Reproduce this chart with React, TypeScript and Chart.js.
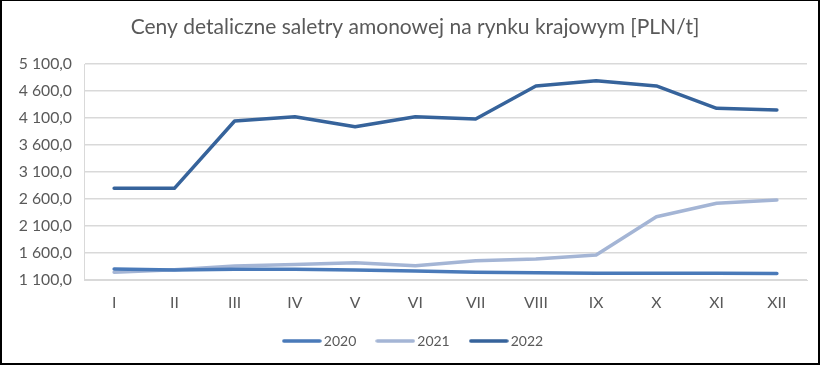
import React, { useEffect, useRef } from "react";
import { Chart, registerables } from "chart.js";

Chart.register(...registerables);

const categories = ["I", "II", "III", "IV", "V", "VI", "VII", "VIII", "IX", "X", "XI", "XII"];
const series2020 = [1304, 1285, 1300, 1300, 1285, 1267, 1245, 1235, 1225, 1224, 1224, 1222];
const series2021 = [1243, 1290, 1360, 1385, 1420, 1365, 1455, 1490, 1563, 2272, 2520, 2581];
const series2022 = [2798, 2798, 4044, 4124, 3939, 4124, 4081, 4693, 4791, 4693, 4279, 4248];
const seriesNames = ["2020", "2021", "2022"];
const seriesColors = ["#4a7ab9", "#a4b5d5", "#36639b"];
const yMin = 1100;
const yMax = 5100;
const yStep = 500;
const titleText = "Ceny detaliczne saletry amonowej na rynku krajowym [PLN/t]";

const FONT = "Lato, 'Open Sans', sans-serif";
const GRAY = "#595959";

function fmt(v: number): string {
  const s = v.toFixed(1).replace(".", ",");
  const [int, dec] = s.split(",");
  const withSp = int.replace(/\B(?=(\d{3})+(?!\d))/g, " ");
  return withSp + "," + dec;
}

function legendLine(color: string): HTMLCanvasElement {
  const c = document.createElement("canvas");
  c.width = 40;
  c.height = 4;
  const ctx = c.getContext("2d")!;
  ctx.strokeStyle = color;
  ctx.lineWidth = 3.5;
  ctx.lineCap = "round";
  ctx.beginPath();
  ctx.moveTo(2, 2);
  ctx.lineTo(38, 2);
  ctx.stroke();
  return c;
}

const borderPlugin = {
  id: "frame",
  afterDraw(chart: any) {
    const ctx = chart.ctx;
    ctx.save();
    ctx.fillStyle = "#000";
    const w = chart.width;
    const h = chart.height;
    ctx.fillRect(0, 0, 2, h);
    ctx.fillRect(0, 0, w, 1);
    ctx.fillRect(w - 2, 0, 2, h);
    ctx.fillRect(0, h - 2, w, 2);
    ctx.restore();
  },
};

export default function App() {
  const ref = useRef<HTMLCanvasElement>(null);
  useEffect(() => {
    document.body.style.margin = "0";
    const all = [series2020, series2021, series2022];
    const chart = new Chart(ref.current!, {
      type: "line",
      data: {
        labels: categories,
        datasets: all.map((d, i) => ({
          label: seriesNames[i],
          data: d,
          borderColor: seriesColors[i],
          backgroundColor: seriesColors[i],
          borderWidth: 3.5,
          pointRadius: 0,
          pointStyle: legendLine(seriesColors[i]) as any,
          tension: 0,
          borderCapStyle: "round" as const,
          borderJoinStyle: "round" as const,
        })),
      },
      options: {
        animation: false,
        responsive: false,
        maintainAspectRatio: false,
        layout: { padding: { left: 10, right: 0, top: 0, bottom: 7 } },
        plugins: {
          title: {
            display: true,
            text: titleText,
            color: GRAY,
            font: { family: FONT, size: 21, weight: "normal" },
            padding: { top: 14.5, bottom: 24.3 },
          },
          legend: {
            position: "bottom",
            labels: {
              color: GRAY,
              font: { family: FONT, size: 14 },
              usePointStyle: true,
              pointStyleWidth: 30,
              boxWidth: 30,
              boxHeight: 14,
              padding: 24,
            },
          },
          tooltip: { enabled: false },
        },
        scales: {
          x: {
            offset: true,
            grid: { display: false, drawTicks: false },
            border: { color: "#d9d9d9", width: 1 },
            ticks: {
              color: GRAY,
              font: { family: FONT, size: 15.75 },
              padding: 13,
              maxRotation: 0,
              autoSkip: false,
            },
            afterFit(scale: any) {
              scale.height = 30;
            },
          },
          y: {
            min: yMin,
            max: yMax,
            grid: { color: "#d9d9d9", lineWidth: 1.5, drawTicks: false },
            border: { color: "#d9d9d9", width: 1 },
            ticks: {
              stepSize: yStep,
              color: GRAY,
              font: { family: FONT, size: 15.75 },
              padding: 12,
              callback: (v: any) => fmt(Number(v)),
            },
            afterFit(scale: any) {
              scale.width = 74;
            },
          },
          yRight: {
            position: "right",
            min: yMin,
            max: yMax,
            grid: { display: false, drawTicks: false },
            border: { display: false },
            ticks: { display: false },
            afterFit(scale: any) {
              scale.width = 13;
            },
          },
        },
      },
      plugins: [borderPlugin],
    });
    return () => chart.destroy();
  }, []);
  return (
    <div style={{ width: 820, height: 365 }}>
      <canvas ref={ref} width={820} height={365} style={{ display: "block" }} />
    </div>
  );
}
